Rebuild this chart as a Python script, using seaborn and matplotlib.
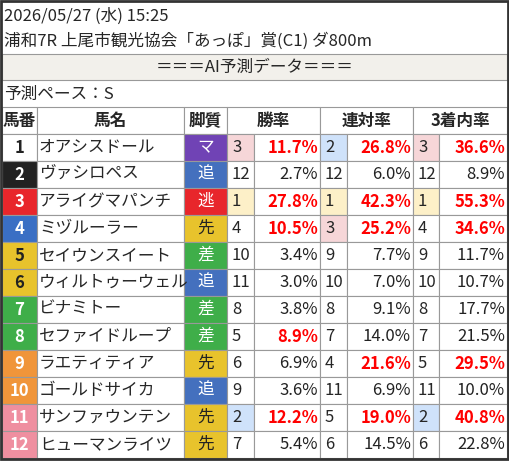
import matplotlib
matplotlib.use("Agg")
import matplotlib.pyplot as plt
import seaborn as sns
from matplotlib.patches import Rectangle

# データ
date_line = "2026/05/27 (水) 15:25"
race_line = "浦和7R 上尾市観光協会「あっぽ」賞(C1) ダ800m"
band_text = "＝＝＝AI予測データ＝＝＝"
pace_text = "予測ペース：S"
headers = ["馬番", "馬名", "脚質", "勝率", "連対率", "3着内率"]

numbers = list(range(1, 13))
names = ["オアシスドール", "ヴァシロペス", "アライグマパンチ", "ミヅルーラー",
         "セイウンスイート", "ウィルトゥーウェル", "ビナミトー", "セファイドループ",
         "ラエティティア", "ゴールドサイカ", "サンファウンテン", "ヒューマンライツ"]
styles = ["マ", "追", "逃", "先", "差", "追", "差", "差", "先", "追", "先", "先"]
win_rank = [3, 12, 1, 4, 10, 11, 8, 5, 6, 9, 2, 7]
win_rate = [11.7, 2.7, 27.8, 10.5, 3.4, 3.0, 3.8, 8.9, 6.9, 3.6, 12.2, 5.4]
ren_rank = [2, 12, 1, 3, 9, 10, 8, 7, 4, 11, 5, 6]
ren_rate = [26.8, 6.0, 42.3, 25.2, 7.7, 7.0, 9.1, 14.0, 21.6, 6.9, 19.0, 14.5]
top3_rank = [3, 12, 1, 4, 9, 10, 8, 7, 5, 11, 2, 6]
top3_rate = [36.6, 8.9, 55.3, 34.6, 11.7, 10.7, 17.7, 21.5, 29.5, 10.0, 40.8, 22.8]

# 枠色
num_bg = ["#ffffff", "#222222", "#e8262b", "#3a6fc4", "#e8c32c", "#e8c32c",
          "#3fae49", "#3fae49", "#f0953a", "#f0953a", "#ef8fa0", "#ef8fa0"]
num_fg = ["#222222", "#ffffff", "#ffffff", "#ffffff", "#222222", "#222222",
          "#ffffff", "#ffffff", "#ffffff", "#ffffff", "#ffffff", "#ffffff"]
style_bg = {"マ": "#7043b5", "追": "#4470be", "逃": "#e8262b", "先": "#e8c32c", "差": "#3fae49"}
style_fg = {"マ": "#ffffff", "追": "#ffffff", "逃": "#ffffff", "先": "#222222", "差": "#ffffff"}
rank_bg = {1: "#fdf0c8", 2: "#cfe2fa", 3: "#f6d6d8"}

sns.set_style("white")
plt.rcParams["font.family"] = ["Noto Sans CJK JP", "DejaVu Sans"]

W, H = 509, 461
fig = plt.figure(figsize=(W / 100, H / 100), dpi=100)
ax = fig.add_axes([0, 0, 1, 1])
ax.set_xlim(0, W)
ax.set_ylim(H, 0)
ax.axis("off")

grid = "#999999"
fs = 12


def cell(x0, y0, w, h, fc="white"):
    ax.add_patch(Rectangle((x0, y0), w, h, facecolor=fc, edgecolor=grid, lw=0.8))


# 上部
ax.text(4, 16, date_line, fontsize=fs, va="center")
ax.text(4, 41, race_line, fontsize=fs, va="center")
cell(2, 54, W - 4, 26, "#f2f0eb")
ax.text(W / 2, 67, band_text, fontsize=fs, ha="center", va="center")
ax.text(4, 94, pace_text, fontsize=fs, va="center")

cols = [2, 37, 184, 227, 254, 320, 347, 413, 439, 507]
y_head, rh = 107, 27

# 見出し
head_spans = [(0, 1), (1, 2), (2, 3), (3, 5), (5, 7), (7, 9)]
for label, (a, b) in zip(headers, head_spans):
    cell(cols[a], y_head, cols[b] - cols[a], rh)
    ax.text((cols[a] + cols[b]) / 2, y_head + rh / 2, label, fontsize=fs,
            fontweight="bold", ha="center", va="center")

for i in range(len(numbers)):
    y = y_head + rh * (i + 1)
    cy = y + rh / 2
    cell(cols[0], y, cols[1] - cols[0], rh, num_bg[i])
    ax.text((cols[0] + cols[1]) / 2, cy, str(numbers[i]), fontsize=fs,
            fontweight="bold", color=num_fg[i], ha="center", va="center")
    cell(cols[1], y, cols[2] - cols[1], rh)
    ax.text(cols[1] + 2, cy, names[i], fontsize=fs, va="center")
    s = styles[i]
    cell(cols[2], y, cols[3] - cols[2], rh, style_bg[s])
    ax.text((cols[2] + cols[3]) / 2, cy, s, fontsize=fs, color=style_fg[s],
            ha="center", va="center")
    for k, (rk, rt) in enumerate([(win_rank, win_rate), (ren_rank, ren_rate),
                                  (top3_rank, top3_rate)]):
        xa, xb, xc = cols[3 + 2 * k], cols[4 + 2 * k], cols[5 + 2 * k]
        r = rk[i]
        cell(xa, y, xb - xa, rh, rank_bg.get(r, "white"))
        ax.text(xa + 5, cy, str(r), fontsize=fs, va="center")
        cell(xb, y, xc - xb, rh)
        hot = r <= 5
        ax.text(xc - 2, cy, f"{rt[i]:.1f}%", fontsize=fs, ha="right", va="center",
                color="#ff0000" if hot else "#222222",
                fontweight="bold" if hot else "normal")

ax.add_patch(Rectangle((1, 1), W - 2, H - 3, facecolor="none", edgecolor="#333333", lw=2))

fig.savefig("out.png", dpi=100)
